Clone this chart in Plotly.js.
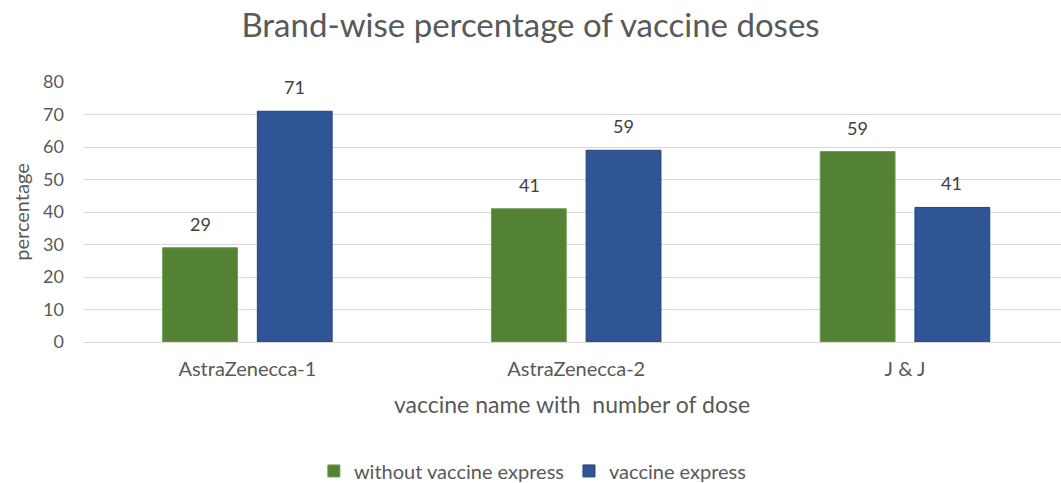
<!DOCTYPE html>
<html>
<head>
<meta charset="utf-8">
<script src="https://cdn.plot.ly/plotly-3.0.1.min.js"></script>
<style>html,body{margin:0;padding:0;background:#fff;}#chart{width:1061px;height:483px;}</style>
</head>
<body>
<div id="chart"></div>
<script>
const categories = ["AstraZenecca-1", "AstraZenecca-2", "J & J"];
const seriesNames = ["without vaccine express", "vaccine express"];
const withoutExpress = [29, 41, 58.6];
const withExpress = [71, 59, 41.4];
const yTicks = [0, 10, 20, 30, 40, 50, 60, 70, 80];

const FONT = "Lato, 'Open Sans', sans-serif";
const txt = "#595959";

const traces = [
  {type: "bar", name: seriesNames[0], x: categories, y: withoutExpress,
   marker: {color: "#548235", line: {color: "#6f9a4f", width: 1}}, hoverinfo: "y"},
  {type: "bar", name: seriesNames[1], x: categories, y: withExpress,
   marker: {color: "#2f5597", line: {color: "#264478", width: 1}}, hoverinfo: "y"}
];

const annotations = [];
[withoutExpress, withExpress].forEach((vals, si) => {
  vals.forEach((v, i) => {
    annotations.push({x: categories[i], y: v, xref: "x", yref: "y",
      text: String(Math.round(v)), showarrow: false,
      xshift: si === 0 ? -47 : 47, yshift: 24, yanchor: "middle",
      font: {family: FONT, size: 18, color: "#404040"}});
  });
});

const layout = {
  width: 1061, height: 483,
  margin: {l: 83, r: 0, t: 82, b: 141},
  paper_bgcolor: "#fff", plot_bgcolor: "#fff",
  font: {family: FONT, color: txt},
  title: {text: "Brand-wise percentage of vaccine doses", x: 0.5, xanchor: "center",
          y: 0.948, yanchor: "middle", font: {family: FONT, size: 33, color: txt}},
  barmode: "group", bargap: 0.424, bargroupgap: 0.21,
  xaxis: {type: "category", range: [-0.5, 2.4745], showgrid: false, zeroline: false,
          automargin: false,
          showline: false, ticks: "", ticklabelstandoff: 13,
          tickfont: {family: FONT, size: 20, color: txt},
          title: {text: "vaccine name with  number of dose", standoff: 17,
                  font: {family: FONT, size: 23, color: txt}}},
  yaxis: {range: [0, 80], tickvals: yTicks, showgrid: true, gridcolor: "#d9d9d9", gridwidth: 1,
          automargin: false,
          zeroline: true, zerolinecolor: "#d9d9d9", zerolinewidth: 1, showline: false,
          ticks: "", ticklabelstandoff: 18, tickfont: {family: FONT, size: 18, color: txt},
          title: {text: "percentage", standoff: 8, font: {family: FONT, size: 20, color: txt}}},
  showlegend: true,
  legend: {orientation: "h", x: 0.46, xanchor: "center", yref: "container", y: 0.025, yanchor: "middle",
           font: {family: FONT, size: 20, color: txt}, itemwidth: 30, tracegroupgap: 0},
  annotations: annotations
};

Plotly.newPlot("chart", traces, layout, {displayModeBar: false, staticPlot: true});
</script>
</body>
</html>
